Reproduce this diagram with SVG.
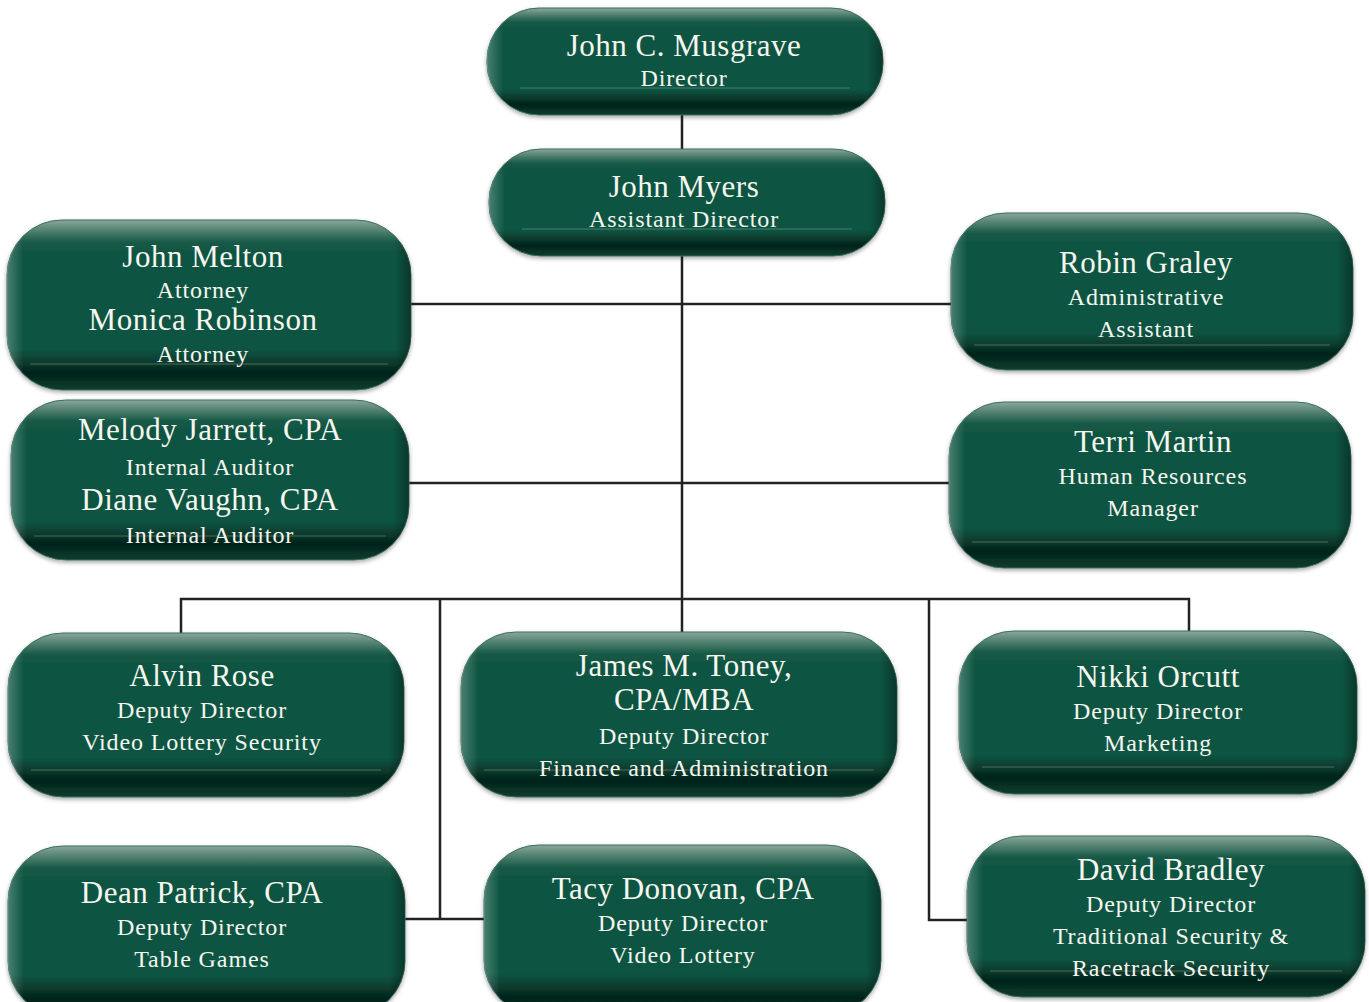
<svg xmlns="http://www.w3.org/2000/svg" width="1369" height="1002" viewBox="0 0 1369 1002">
<defs>
<linearGradient id="g" x1="0" y1="0" x2="0" y2="1">
<stop offset="0" stop-color="#8aa89b"/>
<stop offset="0.05" stop-color="#5d8878"/>
<stop offset="0.13" stop-color="#175a47"/>
<stop offset="0.2" stop-color="#0f5442"/>
<stop offset="0.76" stop-color="#0f5442"/>
<stop offset="0.8" stop-color="#0c4838"/>
<stop offset="0.9" stop-color="#03231a"/>
<stop offset="1" stop-color="#0b3d2f"/>
</linearGradient>
<linearGradient id="h" x1="0" y1="0" x2="1" y2="0">
<stop offset="0" stop-color="#ffffff" stop-opacity="0.25"/>
<stop offset="0.04" stop-color="#ffffff" stop-opacity="0"/>
<stop offset="0.96" stop-color="#000000" stop-opacity="0"/>
<stop offset="1" stop-color="#000000" stop-opacity="0.35"/>
</linearGradient>
<filter id="s" x="-5%" y="-5%" width="110%" height="115%">
<feGaussianBlur in="SourceAlpha" stdDeviation="2"/>
<feOffset dy="2" result="b"/>
<feFlood flood-color="#000" flood-opacity="0.35"/>
<feComposite in2="b" operator="in"/>
<feMerge><feMergeNode/><feMergeNode in="SourceGraphic"/></feMerge>
</filter>
</defs>
<style>
.box{fill:url(#g);stroke:#3d6e5e;stroke-width:1;filter:url(#s)}
.sh{fill:url(#h)}
.hl{stroke:#9fbcb0;stroke-width:0.8;stroke-opacity:0.5}
text{font-family:"Liberation Serif","Times New Roman",serif;fill:#f6f6ef;text-anchor:middle}
.n{font-size:31px;letter-spacing:0.5px}
.t{font-size:24px;letter-spacing:0.9px}
.c{fill:none;stroke:#222;stroke-width:2.5}
</style>
<rect width="1369" height="1002" fill="#fff"/>
<g id="connectors">
<path class="c" d="M682 115V149M682 256V599M411 304H951M409 483H949M181 633V599H1189V631M682 599V632M440 599V919H484M405 919H440M929 599V920H967"/>
</g>
<g id="musgrave">
<rect class="box" x="487" y="8" width="396" height="107" rx="52"/>
<rect class="sh" x="487" y="8" width="396" height="107" rx="52"/>
<line class="hl" x1="520" y1="88" x2="850" y2="88"/>
<text class="n" x="684" y="56">John C. Musgrave</text>
<text class="t" x="684" y="86">Director</text>
</g>
<g id="myers">
<rect class="box" x="489" y="149" width="396" height="107" rx="52"/>
<rect class="sh" x="489" y="149" width="396" height="107" rx="52"/>
<line class="hl" x1="522" y1="229" x2="852" y2="229"/>
<text class="n" x="684" y="197">John Myers</text>
<text class="t" x="684" y="227">Assistant Director</text>
</g>
<g id="melton">
<rect class="box" x="7" y="220" width="404" height="170" rx="55"/>
<rect class="sh" x="7" y="220" width="404" height="170" rx="55"/>
<line class="hl" x1="30" y1="364" x2="388" y2="364"/>
<text class="n" x="203" y="267">John Melton</text>
<text class="t" x="203" y="298">Attorney</text>
<text class="n" x="203" y="330">Monica Robinson</text>
<text class="t" x="203" y="362">Attorney</text>
</g>
<g id="graley">
<rect class="box" x="951" y="213" width="402" height="157" rx="55"/>
<rect class="sh" x="951" y="213" width="402" height="157" rx="55"/>
<line class="hl" x1="974" y1="345" x2="1330" y2="345"/>
<text class="n" x="1146" y="273">Robin Graley</text>
<text class="t" x="1146" y="305">Administrative</text>
<text class="t" x="1146" y="337">Assistant</text>
</g>
<g id="jarrett">
<rect class="box" x="11" y="400" width="398" height="160" rx="55"/>
<rect class="sh" x="11" y="400" width="398" height="160" rx="55"/>
<line class="hl" x1="34" y1="536" x2="386" y2="536"/>
<text class="n" x="210" y="440">Melody Jarrett, CPA</text>
<text class="t" x="210" y="475">Internal Auditor</text>
<text class="n" x="210" y="510">Diane Vaughn, CPA</text>
<text class="t" x="210" y="543">Internal Auditor</text>
</g>
<g id="martin">
<rect class="box" x="949" y="402" width="402" height="166" rx="55"/>
<rect class="sh" x="949" y="402" width="402" height="166" rx="55"/>
<line class="hl" x1="972" y1="542" x2="1328" y2="542"/>
<text class="n" x="1153" y="452">Terri Martin</text>
<text class="t" x="1153" y="484">Human Resources</text>
<text class="t" x="1153" y="516">Manager</text>
</g>
<g id="rose">
<rect class="box" x="8" y="633" width="396" height="164" rx="55"/>
<rect class="sh" x="8" y="633" width="396" height="164" rx="55"/>
<line class="hl" x1="31" y1="770" x2="381" y2="770"/>
<text class="n" x="202" y="686">Alvin Rose</text>
<text class="t" x="202" y="718">Deputy Director</text>
<text class="t" x="202" y="750">Video Lottery Security</text>
</g>
<g id="toney">
<rect class="box" x="461" y="632" width="436" height="165" rx="55"/>
<rect class="sh" x="461" y="632" width="436" height="165" rx="55"/>
<line class="hl" x1="484" y1="770" x2="874" y2="770"/>
<text class="n" x="684" y="676">James M. Toney,</text>
<text class="n" x="684" y="710">CPA/MBA</text>
<text class="t" x="684" y="744">Deputy Director</text>
<text class="t" x="684" y="776">Finance and Administration</text>
</g>
<g id="orcutt">
<rect class="box" x="959" y="631" width="398" height="163" rx="55"/>
<rect class="sh" x="959" y="631" width="398" height="163" rx="55"/>
<line class="hl" x1="982" y1="767" x2="1334" y2="767"/>
<text class="n" x="1158" y="687">Nikki Orcutt</text>
<text class="t" x="1158" y="719">Deputy Director</text>
<text class="t" x="1158" y="751">Marketing</text>
</g>
<g id="patrick">
<rect class="box" x="8" y="846" width="397" height="170" rx="55"/>
<rect class="sh" x="8" y="846" width="397" height="170" rx="55"/>
<text class="n" x="202" y="903">Dean Patrick, CPA</text>
<text class="t" x="202" y="935">Deputy Director</text>
<text class="t" x="202" y="967">Table Games</text>
</g>
<g id="donovan">
<rect class="box" x="484" y="845" width="397" height="170" rx="55"/>
<rect class="sh" x="484" y="845" width="397" height="170" rx="55"/>
<text class="n" x="683" y="899">Tacy Donovan, CPA</text>
<text class="t" x="683" y="931">Deputy Director</text>
<text class="t" x="683" y="963">Video Lottery</text>
</g>
<g id="bradley">
<rect class="box" x="967" y="836" width="398" height="161" rx="55"/>
<rect class="sh" x="967" y="836" width="398" height="161" rx="55"/>
<line class="hl" x1="990" y1="971" x2="1342" y2="971"/>
<text class="n" x="1171" y="880">David Bradley</text>
<text class="t" x="1171" y="912">Deputy Director</text>
<text class="t" x="1171" y="944">Traditional Security &amp;</text>
<text class="t" x="1171" y="976">Racetrack Security</text>
</g>
</svg>
